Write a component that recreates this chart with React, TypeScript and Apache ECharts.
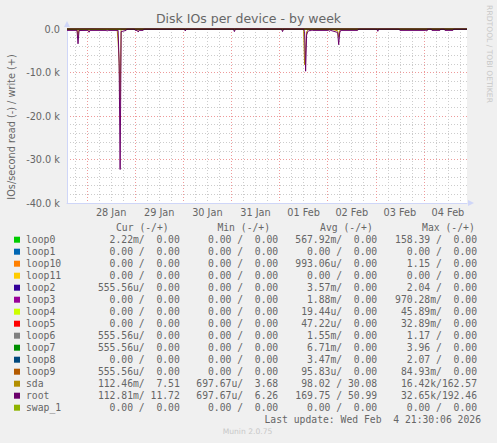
import React, { useEffect, useRef } from "react";
import * as echarts from "echarts";

const YEAR = 2026;
const T = (s: string) => {
  const [md, hm] = s.split(" ");
  const [mo, d] = md.split("-").map(Number);
  const [h, m] = hm.split(":").map(Number);
  return Date.UTC(YEAR, mo - 1, d, h, m);
};

const X_START = "01-27 14:00";
const X_END = "02-04 21:30";

const dayDates = ["01-28", "01-29", "01-30", "01-31", "02-01", "02-02", "02-03", "02-04"];
const dayLabels = ["28 Jan", "29 Jan", "30 Jan", "31 Jan", "01 Feb", "02 Feb", "03 Feb", "04 Feb"];
const yTicks = [-40000, -30000, -20000, -10000, 0];
const yTickLabels = ["-40.0 k", "-30.0 k", "-20.0 k", "-10.0 k", "0.0"];

const fieldNames = ["loop0", "loop1", "loop10", "loop11", "loop2", "loop3", "loop4", "loop5", "loop6", "loop7", "loop8", "loop9", "sda", "root", "swap_1"];
const fieldColors = ["#00CC00", "#0066B3", "#FF8000", "#FFCC00", "#330099", "#990099", "#CCFF00", "#FF0000", "#808080", "#008F00", "#00487D", "#B35A00", "#B38F00", "#6B006B", "#8FB300"];

const curRead = ["2.22m", "0.00", "0.00", "0.00", "555.56u", "0.00", "0.00", "0.00", "555.56u", "555.56u", "0.00", "555.56u", "112.46m", "112.81m", "0.00"];
const curWrite = ["0.00", "0.00", "0.00", "0.00", "0.00", "0.00", "0.00", "0.00", "0.00", "0.00", "0.00", "0.00", "7.51", "11.72", "0.00"];
const minRead = ["0.00", "0.00", "0.00", "0.00", "0.00", "0.00", "0.00", "0.00", "0.00", "0.00", "0.00", "0.00", "697.67u", "697.67u", "0.00"];
const minWrite = ["0.00", "0.00", "0.00", "0.00", "0.00", "0.00", "0.00", "0.00", "0.00", "0.00", "0.00", "0.00", "3.68", "6.26", "0.00"];
const avgRead = ["567.92m", "0.00", "993.06u", "0.00", "3.57m", "1.88m", "19.44u", "47.22u", "1.55m", "6.71m", "3.47m", "95.83u", "98.02", "169.75", "0.00"];
const avgWrite = ["0.00", "0.00", "0.00", "0.00", "0.00", "0.00", "0.00", "0.00", "0.00", "0.00", "0.00", "0.00", "30.08", "50.99", "0.00"];
const maxRead = ["158.39", "0.00", "1.15", "0.00", "2.04", "970.28m", "45.89m", "32.89m", "1.17", "3.96", "2.07", "84.93m", "16.42k", "32.65k", "0.00"];
const maxWrite = ["0.00", "0.00", "0.00", "0.00", "0.00", "0.00", "0.00", "0.00", "0.00", "0.00", "0.00", "0.00", "162.57", "192.46", "0.00"];

const headers = ["Cur (-/+)", "Min (-/+)", "Avg (-/+)", "Max (-/+)"];
const lastUpdate = "Last update: Wed Feb  4 21:30:06 2026";

// samples [time, IOs/second]; reads are drawn below zero
const rootRead: [string, number][] = [
  ["01-27 14:00", 320], ["01-27 19:00", 320], ["01-27 19:30", 3400], ["01-27 20:00", 350],
  ["01-28 00:30", 320], ["01-28 01:00", 750], ["01-28 01:30", 320],
  ["01-28 09:30", 320], ["01-28 10:00", 450], ["01-28 10:30", 320],
  ["01-28 15:30", 320], ["01-28 16:00", 8000], ["01-28 16:30", 32300], ["01-28 17:00", 600],
  ["01-28 19:30", 320], ["01-28 20:00", 20], ["01-28 23:30", 20],
  ["01-29 00:00", 320], ["01-29 01:00", 320], ["01-29 01:30", 700], ["01-29 02:00", 320],
  ["01-29 04:00", 320], ["01-29 04:30", 20],
  ["01-30 00:30", 20], ["01-30 01:00", 450], ["01-30 01:30", 20],
  ["01-31 01:00", 20], ["01-31 01:30", 600], ["01-31 02:00", 20],
  ["02-01 01:00", 20], ["02-01 01:30", 600], ["02-01 02:00", 20],
  ["02-01 12:00", 20], ["02-01 12:30", 600], ["02-01 13:00", 9700], ["02-01 13:30", 1400],
  ["02-01 14:00", 700], ["02-01 14:30", 400], ["02-01 16:00", 350], ["02-01 16:30", 320],
  ["02-02 00:30", 320], ["02-02 01:00", 530], ["02-02 01:30", 320],
  ["02-02 05:00", 800], ["02-02 05:30", 3600], ["02-02 06:00", 900], ["02-02 06:30", 320],
  ["02-02 15:00", 320], ["02-02 15:30", 20],
  ["02-03 00:30", 20], ["02-03 01:00", 530], ["02-03 01:30", 20],
  ["02-03 11:30", 20], ["02-03 12:00", 320],
  ["02-04 01:00", 320], ["02-04 01:30", 460], ["02-04 02:00", 20],
  ["02-04 03:30", 20], ["02-04 04:00", 320], ["02-04 08:00", 320], ["02-04 08:30", 20],
  ["02-04 10:00", 20], ["02-04 10:30", 320], ["02-04 14:30", 320], ["02-04 15:00", 20],
  ["02-04 21:30", 20],
];
const sdaRead: [string, number][] = [
  ["01-27 14:00", 30], ["01-27 19:00", 30], ["01-27 19:30", 1800], ["01-27 20:00", 30],
  ["01-28 00:30", 30], ["01-28 01:00", 400], ["01-28 01:30", 30],
  ["01-28 15:00", 30], ["01-28 15:30", 3000], ["01-28 16:00", 7600], ["01-28 16:30", 16400], ["01-28 17:00", 300],
  ["01-28 17:30", 30], ["01-29 01:00", 30], ["01-29 01:30", 350], ["01-29 02:00", 30],
  ["01-30 00:30", 10], ["01-30 01:00", 250], ["01-30 01:30", 10], ["01-31 01:00", 10], ["01-31 01:30", 300], ["01-31 02:00", 10],
  ["02-01 01:00", 10], ["02-01 01:30", 300], ["02-01 02:00", 10],
  ["02-01 12:00", 10], ["02-01 12:30", 8200], ["02-01 13:00", 5000], ["02-01 13:30", 700],
  ["02-01 14:00", 300], ["02-01 14:30", 30],
  ["02-02 00:30", 30], ["02-02 01:00", 280], ["02-02 01:30", 30], ["02-02 05:00", 400], ["02-02 05:30", 1900],
  ["02-02 06:00", 450], ["02-02 06:30", 30],
  ["02-03 00:30", 10], ["02-03 01:00", 280], ["02-03 01:30", 10],
  ["02-04 01:00", 30], ["02-04 01:30", 250], ["02-04 02:00", 10],
  ["02-04 21:30", 10],
];
const rootWrite: [string, number][] = [
  ["01-27 14:00", 45], ["01-28 16:30", 192], ["01-28 17:00", 60], ["01-29 12:00", 40],
  ["02-01 13:00", 150], ["02-01 14:00", 50], ["02-03 12:00", 55], ["02-04 21:30", 12],
];
const sdaWrite: [string, number][] = [
  ["01-27 14:00", 25], ["01-28 16:30", 162], ["01-28 17:00", 35], ["01-29 12:00", 25],
  ["02-01 13:00", 120], ["02-01 14:00", 30], ["02-03 12:00", 30], ["02-04 21:30", 8],
];
const zeroSamples: [string, number][] = [[X_START, 0], [X_END, 0]];

const FONT_C = "#666666";
const AXIS_C = "#CFD6F8";
const MONO = "DejaVu Sans Mono";
const SANS = "DejaVu Sans";

const fmtNum = (s: string) => {
  const m = s.match(/^([\d.]+)([a-zA-Z]?)$/);
  const num = m ? m[1] : s;
  const unit = m && m[2] ? m[2] : " ";
  return num.padStart(6, " ") + unit;
};
const col = (r: string, w: string) => (fmtNum(r) + "/" + w.padStart(6, " ")).replace(/ /g, "\u00A0");

function txt(x: number, y: number, text: string, opts: any = {}) {
  const align = opts.align || "left";
  return {
    type: "text",
    x,
    y,
    rotation: opts.rotation || 0,
    silent: true,
    style: {
      text,
      fill: opts.fill || FONT_C,
      fontSize: opts.fontSize || 9.72,
      fontFamily: opts.fontFamily || MONO,
      textAlign: align,
      align,
      textVerticalAlign: "middle",
      verticalAlign: "middle",
    },
  };
}

export default function App() {
  const ref = useRef<HTMLDivElement>(null);
  useEffect(() => {
    if (!ref.current) return;
    const chart = echarts.init(ref.current, null, { renderer: "svg" });

    const midnights = dayDates.map((d) => T(d + " 00:00"));
    const noons = dayDates.map((d) => T(d + " 12:00"));
    const sixHours: number[] = [T("01-27 18:00")];
    dayDates.forEach((d) => ["06:00", "12:00", "18:00"].forEach((h) => sixHours.push(T(d + " " + h))));
    const xMin = T(X_START);
    const xMax = T(X_END);

    const series: any[] = [];
    fieldNames.forEach((name, i) => {
      const active = name === "root" || name === "sda";
      const rd = name === "root" ? rootRead : name === "sda" ? sdaRead : zeroSamples;
      const wr = name === "root" ? rootWrite : name === "sda" ? sdaWrite : zeroSamples;
      const base = {
        type: "line",
        showSymbol: false,
        symbol: "none",
        silent: true,
        z: active ? 3 : 1,
        lineStyle: { color: fieldColors[i], width: 1 },
        itemStyle: { color: fieldColors[i] },
      };
      series.push({ ...base, name: name + " read", data: rd.map(([t, v]) => [T(t), -v]) });
      series.push({ ...base, name: name + " write", data: wr.map(([t, v]) => [T(t), v]) });
    });
    series.push({
      type: "line",
      name: "zero",
      showSymbol: false,
      symbol: "none",
      silent: true,
      z: 7,
      lineStyle: { color: "#000000", width: 1.2 },
      data: zeroSamples.map(([t, v]) => [T(t), v]),
    });

    const graphics: any[] = [];
    const ROW0 = 239.7;
    const ROW_H = 12;
    const headerX = [116, 217.4, 320.1, 422.1];
    const colEnds = [179.8, 278.2, 377.2, 477];
    headers.forEach((h, i) => graphics.push(txt(headerX[i], ROW0 - ROW_H, h)));
    fieldNames.forEach((name, i) => {
      const y = ROW0 + i * ROW_H;
      graphics.push({ type: "rect", silent: true, shape: { x: 14, y: y - 3, width: 6, height: 6 }, style: { fill: fieldColors[i] } });
      graphics.push(txt(26, y, name));
      const cols = [
        col(curRead[i], curWrite[i]),
        col(minRead[i], minWrite[i]),
        col(avgRead[i], avgWrite[i]),
        col(maxRead[i], maxWrite[i]),
      ];
      cols.forEach((c, j) => graphics.push(txt(colEnds[j], y, c, { align: "right" })));
    });
    graphics.push(txt(481, ROW0 + 15 * ROW_H, lastUpdate.replace(/ /g, "\u00A0"), { align: "right" }));
    graphics.push(txt(247.5, 431.7, "Munin 2.0.75", { align: "center", fontFamily: SANS, fontSize: 7.6, fill: "#c8c8c8" }));
    graphics.push(txt(489, 54, "RRDTOOL / TOBI OETIKER", { align: "center", fontFamily: SANS, fontSize: 7.6, fill: "#c8c8c8", rotation: -Math.PI / 2 }));
    graphics.push(txt(11.5, 127, "IOs/second read (-) / write (+)", { align: "center", fontFamily: SANS, fontSize: 9.72, rotation: Math.PI / 2 }));

    chart.setOption({
      animation: false,
      backgroundColor: "#F0F0F0",
      textStyle: { fontFamily: SANS },
      title: {
        text: "Disk IOs per device - by week",
        left: "center",
        top: 12,
        padding: 0,
        textStyle: { fontFamily: SANS, fontSize: 12.5, fontWeight: "normal", color: FONT_C },
      },
      grid: { left: 67, top: 29, width: 400, height: 174, show: true, backgroundColor: "#FFFFFF", borderWidth: 0 },
      xAxis: [
        {
          type: "value",
          min: xMin,
          max: xMax,
          position: "bottom",
          axisLine: { show: true, onZero: false, lineStyle: { color: AXIS_C, width: 1 }, symbol: ["none", "triangle"], symbolSize: [6, 6], symbolOffset: [0, 4] },
          axisTick: { show: false, customValues: midnights },
          axisLabel: {
            customValues: noons,
            formatter: (v: number) => {
              const k = noons.indexOf(v);
              return k >= 0 ? dayLabels[k] : "";
            },
            color: FONT_C,
            fontSize: 9.72,
            fontFamily: SANS,
            margin: 4,
          },
          splitLine: { show: true, lineStyle: { color: "#EE9A9A", width: 1, type: [1, 2] } },
        },
        {
          type: "value",
          min: xMin,
          max: xMax,
          axisLine: { show: false, onZero: false },
          axisTick: { show: false, customValues: sixHours },
          axisLabel: { show: false },
          splitLine: { show: true, lineStyle: { color: "#CCCCCC", width: 1, type: [1, 2] } },
        },
      ],
      yAxis: {
        type: "value",
        min: -40000,
        max: 0,
        interval: 10000,
        axisLine: { show: true, onZero: false, lineStyle: { color: AXIS_C, width: 1 }, symbol: ["none", "triangle"], symbolSize: [6, 6], symbolOffset: [0, 5] },
        axisTick: { show: false },
        axisLabel: {
          formatter: (v: number) => {
            const k = yTicks.indexOf(v);
            return k >= 0 ? yTickLabels[k] : "";
          },
          color: FONT_C,
          fontSize: 9.72,
          fontFamily: SANS,
          margin: 7,
        },
        splitLine: { show: true, lineStyle: { color: "#EE9A9A", width: 1, type: [1, 2] } },
        minorTick: { show: false, splitNumber: 5 },
        minorSplitLine: { show: true, lineStyle: { color: "#CCCCCC", width: 1, type: [1, 2] } },
      },
      series,
      graphic: { elements: graphics },
    });

    return () => chart.dispose();
  }, []);

  return <div ref={ref} style={{ position: "fixed", left: 0, top: 0, width: 497, height: 443 }} />;
}
